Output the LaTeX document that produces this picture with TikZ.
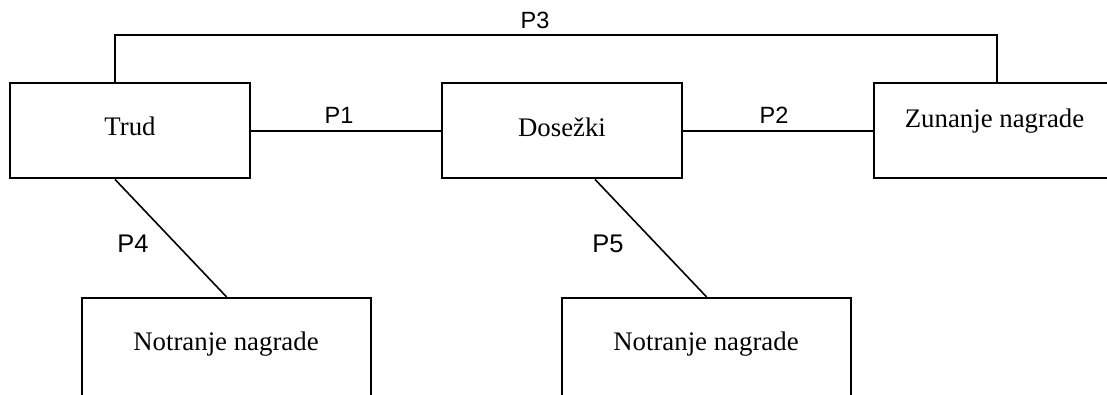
\documentclass[tikz,border=0pt]{standalone}
\usepackage{fontspec}
\setmainfont{Liberation Serif}
\newfontfamily\labelfont{Liberation Sans}
\begin{document}
\begin{tikzpicture}[x=1pt,y=-1pt,
  box/.style={draw,line width=2.3pt,rectangle,inner sep=0pt,minimum height=95.5pt},
  boxtext/.style={font=\fontsize{26.8}{30}\selectfont,inner sep=0pt,anchor=base},
  link/.style={line width=2pt},
  slant/.style={line width=1.6pt},
  ptag/.style={font=\labelfont\fontsize{23.5}{26}\selectfont,inner sep=0pt,anchor=base},
  ptagl/.style={font=\labelfont\fontsize{25.5}{28}\selectfont,inner sep=0pt,anchor=base}]
\useasboundingbox (0,0) rectangle (1107,394);
\clip (0,0) rectangle (1107,394);

% boxes (the lower two run on below the page edge)
\node[box,minimum width=240pt] (trud) at (130,130.5) {};
\node[box,minimum width=240pt] (dosezki) at (562,130.5) {};
\node[box,minimum width=241pt] (zunanje) at (994.5,130.5) {};
\node[box,minimum width=289pt,minimum height=120pt] (notr1) at (226.5,358) {};
\node[box,minimum width=289pt,minimum height=120pt] (notr2) at (706.5,358) {};

% box captions
\node[boxtext] (trudtxt) at (130,135) {Trud};
\node[boxtext] (dosezkitxt) at (562,136) {Dosežki};
\node[boxtext] (zunanjetxt) at (994.5,127) {Zunanje nagrade};
\node[boxtext] (notr1txt) at (226,350) {Notranje nagrade};
\node[boxtext] (notr2txt) at (706,350) {Notranje nagrade};

% connectors
\coordinate (p3l) at (114.5,35);
\coordinate (p3r) at (996.5,35);
\draw[link] (trud) -- (dosezki);
\draw[link] (dosezki) -- (zunanje);
\draw[link] (p3l |- trud.north) -- (p3l) -- (p3r) -- (p3r |- zunanje.north);
\draw[slant] ([xshift=-15pt]trud.south) -- (notr1.north);
\draw[slant] ([xshift=33pt]dosezki.south) -- (notr2.north);

% connector labels
\node[ptag] (l1) at (339,123) {P1};
\node[ptag] (l2) at (774,123) {P2};
\node[ptag] (l3) at (535,28) {P3};
\node[ptagl] (l4) at (133,252) {P4};
\node[ptagl] (l5) at (608,252) {P5};
\end{tikzpicture}
\end{document}
